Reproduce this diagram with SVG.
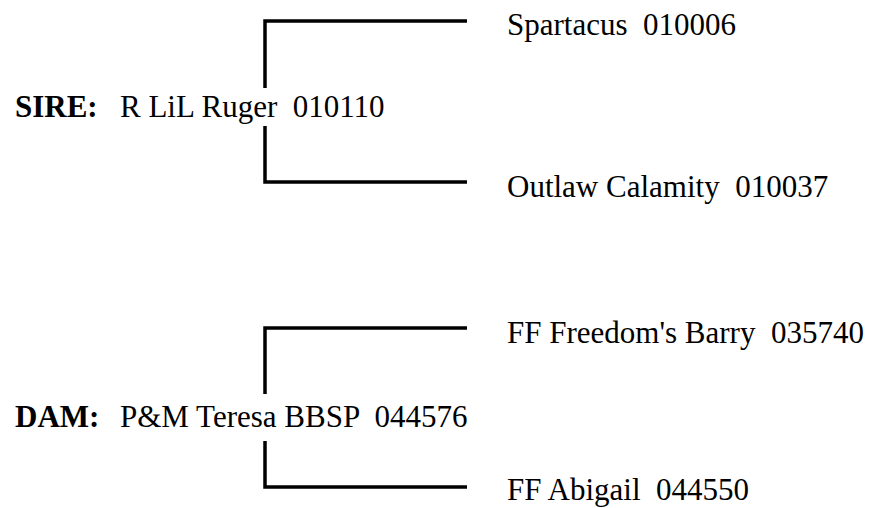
<svg xmlns="http://www.w3.org/2000/svg" width="873" height="508" viewBox="0 0 873 508">
<style>
text{font-family:"Liberation Serif","Times New Roman",serif;font-size:31px;fill:#000}
.b{font-weight:bold}
.ln{fill:none;stroke:#000;stroke-width:3.5;stroke-linecap:butt;stroke-linejoin:miter}
</style>
<rect width="873" height="508" fill="#fff"/>
<g id="connectors">
<path class="ln" d="M467,21 H265 V88"/>
<path class="ln" d="M265,126 V182 H467"/>
<path class="ln" d="M467,328 H265 V394"/>
<path class="ln" d="M265,441 V487 H467"/>
</g>
<g id="sire"><text x="15" y="117"><tspan class="b">SIRE:</tspan></text><text x="120" y="117" xml:space="preserve">R LiL Ruger  010110</text></g>
<g id="sire-sire"><text x="507" y="35" xml:space="preserve">Spartacus  010006</text></g>
<g id="sire-dam"><text x="507" y="197" xml:space="preserve">Outlaw Calamity  010037</text></g>
<g id="dam"><text x="15" y="427"><tspan class="b">DAM:</tspan></text><text x="120" y="427" xml:space="preserve">P&amp;M Teresa BBSP  044576</text></g>
<g id="dam-sire"><text x="507" y="343" xml:space="preserve">FF Freedom's Barry  035740</text></g>
<g id="dam-dam"><text x="507" y="500" xml:space="preserve">FF Abigail  044550</text></g>
</svg>
